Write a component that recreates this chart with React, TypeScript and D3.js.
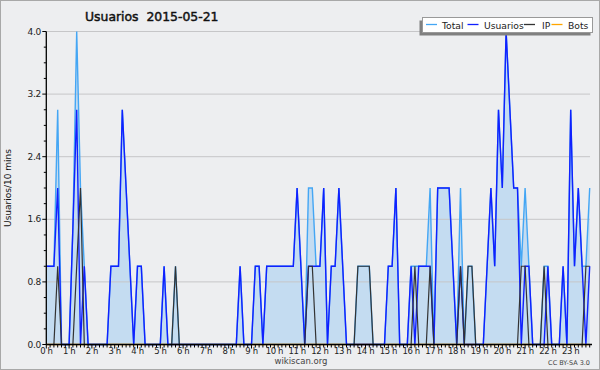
import React, { useEffect } from "react";
import * as d3 from "d3";

const hours = d3.range(0, 24);
const hourLabels = hours.map((h) => `${h} h`);
const yTicks = [0, 0.8, 1.6, 2.4, 3.2, 4.0];

const total = [
  1, 1, 1, 3, 0, 0, 0, 1.5, 4, 2, 1, 0,
  0, 0, 0, 0, 0, 1, 1, 1, 3, 2, 1, 0,
  1, 1, 0, 0, 0, 0, 0, 1, 0, 0, 1, 0,
  0, 0, 0, 0, 0, 0, 0, 0, 0, 0, 0, 0,
  0, 0, 0, 1, 0, 0, 0, 1, 1, 0, 1, 1,
  1, 1, 1, 1, 1, 1, 2, 1, 0, 2, 2, 1,
  1, 2, 0, 1, 1, 2, 1, 0, 0, 0, 1, 1,
  1, 1, 0, 0, 0, 0, 1, 1, 2, 0, 0, 0,
  1, 1, 1, 1, 1, 2, 0, 2, 2, 2, 2, 1,
  0, 2, 0, 1, 1, 0, 0, 0, 1, 2, 1, 3,
  2, 4, 3, 2, 2, 1, 2, 1, 0, 0, 0, 1,
  1, 0, 0, 0, 1, 0, 3, 1, 2, 1, 1, 2,
];

const usuarios = [
  1, 1, 1, 2, 0, 0, 0, 1.5, 3, 0, 1, 0,
  0, 0, 0, 0, 0, 1, 1, 1, 3, 2, 1, 0,
  1, 1, 0, 0, 0, 0, 0, 1, 0, 0, 0, 0,
  0, 0, 0, 0, 0, 0, 0, 0, 0, 0, 0, 0,
  0, 0, 0, 1, 0, 0, 0, 1, 1, 0, 1, 1,
  1, 1, 1, 1, 1, 1, 2, 1, 0, 1, 1, 1,
  1, 2, 0, 1, 1, 2, 1, 0, 0, 0, 0, 0,
  0, 0, 0, 0, 0, 0, 1, 1, 2, 0, 0, 0,
  1, 0, 1, 1, 1, 1, 0, 2, 2, 2, 2, 1,
  0, 1, 0, 0, 0, 0, 0, 0, 1, 2, 1, 3,
  2, 4, 3, 2, 2, 0, 1, 1, 0, 0, 0, 0,
  1, 0, 0, 0, 1, 0, 3, 1, 2, 1, 0, 1,
];

const ip = [
  0, 0, 0, 1, 0, 0, 0, 0, 1, 2, 0, 0,
  0, 0, 0, 0, 0, 0, 0, 0, 0, 0, 0, 0,
  0, 0, 0, 0, 0, 0, 0, 0, 0, 0, 1, 0,
  0, 0, 0, 0, 0, 0, 0, 0, 0, 0, 0, 0,
  0, 0, 0, 0, 0, 0, 0, 0, 0, 0, 0, 0,
  0, 0, 0, 0, 0, 0, 0, 0, 0, 1, 1, 0,
  0, 0, 0, 0, 0, 0, 0, 0, 0, 0, 1, 1,
  1, 1, 0, 0, 0, 0, 0, 0, 0, 0, 0, 0,
  0, 1, 0, 0, 0, 1, 0, 0, 0, 0, 0, 0,
  0, 1, 0, 1, 1, 0, 0, 0, 0, 0, 0, 0,
  0, 0, 0, 0, 0, 1, 1, 0, 0, 0, 0, 1,
  0, 0, 0, 0, 0, 0, 0, 0, 0, 0, 1, 1,
];

const bots = new Array(144).fill(0);

const legendNames = ["Total", "Usuarios", "IP", "Bots"];
const legendColors = ["#44a6f4", "#1020ff", "#333333", "#ffa500"];

const W = 600;
const H = 370;
const FONT = "'DejaVu Sans', Verdana, sans-serif";

export default function App() {
  useEffect(() => {
    document.body.style.margin = "0";
  }, []);

  const x = d3.scaleLinear().domain([0, 143]).range([46.3, 589.7]);
  const y = d3.scaleLinear().domain([0, 4]).range([344.5, 31.5]);

  const idx = d3.range(total.length);
  const line = (arr: number[]) =>
    d3
      .line<number>()
      .x((i) => x(i))
      .y((i) => y(arr[i]))(idx) as string;
  const area = d3
    .area<number>()
    .x((i) => x(i))
    .y0(y(0))
    .y1((i) => y(total[i]))(idx) as string;

  const minorY = d3.range(0, 4.0001, 0.2);
  const x0 = x(0);
  const yBase = y(0);

  // legend layout
  const legX = [426, 467.5, 524, 551.5];
  const legTextX = [442, 484, 542, 568];

  return (
    <svg width={W} height={H} style={{ display: "block", fontFamily: FONT }}>
      <rect x={0} y={0} width={W} height={H} fill="#edeef0" />
      <rect x={0.5} y={0.5} width={W - 1} height={H - 1} fill="none" stroke="#a8a8a8" strokeWidth={1} />

      {/* title */}
      <text
        x={85}
        y={21}
        fontSize={12.4}
        fill="#111"
        stroke="#111"
        strokeWidth={0.45}
        style={{ whiteSpace: "pre" }}
      >
        {"Usuarios  2015-05-21"}
      </text>

      {/* area */}
      <path d={area} fill="#c4dcf1" />

      {/* gridlines */}
      {yTicks.slice(1).map((t) => (
        <line key={t} x1={x0} x2={590} y1={y(t)} y2={y(t)} stroke="#c6c6c8" strokeWidth={1} />
      ))}

      {/* lines */}
      <path d={line(bots)} fill="none" stroke={legendColors[3]} strokeWidth={1.3} />
      <path d={line(total)} fill="none" stroke={legendColors[0]} strokeWidth={1.4} />
      <path d={line(usuarios)} fill="none" stroke={legendColors[1]} strokeWidth={1.4} />
      <path d={line(ip)} fill="none" stroke={legendColors[2]} strokeWidth={1.2} />

      {/* y axis */}
      <line x1={x0} x2={x0} y1={y(4)} y2={yBase} stroke="#000" strokeWidth={1.3} />
      {minorY.map((t, i) => (
        <line key={i} x1={x0 - (i % 4 === 0 ? 4 : 2.5)} x2={x0} y1={y(t)} y2={y(t)} stroke="#000" strokeWidth={1} />
      ))}
      {yTicks.map((t) => (
        <text key={t} x={41} y={y(t) + 3} fontSize={9} textAnchor="end" fill="#222" letterSpacing={-0.3}>
          {t.toFixed(1)}
        </text>
      ))}
      <text
        transform={`translate(10.5,${(y(0) + y(4)) / 2}) rotate(-90)`}
        fontSize={9}
        textAnchor="middle"
        fill="#111"
      >
        Usuarios/10 mins
      </text>

      {/* x axis */}
      <line x1={x0} x2={592} y1={yBase} y2={yBase} stroke="#000" strokeWidth={1.3} />
      {d3.range(0, 144).map((i) => (
        <line key={i} x1={x(i)} x2={x(i)} y1={yBase} y2={yBase + (i % 6 === 0 ? 4 : 3)} stroke="#000" strokeWidth={1} />
      ))}
      {hours.map((h, k) => (
        <text key={h} x={x(h * 6)} y={354} fontSize={8.5} textAnchor="middle" fill="#222" letterSpacing={-0.4}>
          {hourLabels[k]}
        </text>
      ))}

      <text x={301} y={364} fontSize={8.5} textAnchor="middle" fill="#444">
        wikiscan.org
      </text>
      <text x={590} y={365} fontSize={6.5} textAnchor="end" fill="#444">
        CC BY-SA 3.0
      </text>

      {/* legend */}
      <rect x={419.5} y={20.5} width={171} height={15} fill="#808080" />
      <rect x={422.5} y={17.5} width={170} height={15} fill="#fff" stroke="#999" strokeWidth={1} />
      {legendNames.map((n, i) => (
        <g key={n}>
          <line x1={legX[i]} x2={legX[i] + 11} y1={24.5} y2={24.5} stroke={legendColors[i]} strokeWidth={1.3} />
          <text x={legTextX[i]} y={28.5} fontSize={9.2} fill="#222">
            {n}
          </text>
        </g>
      ))}
    </svg>
  );
}
